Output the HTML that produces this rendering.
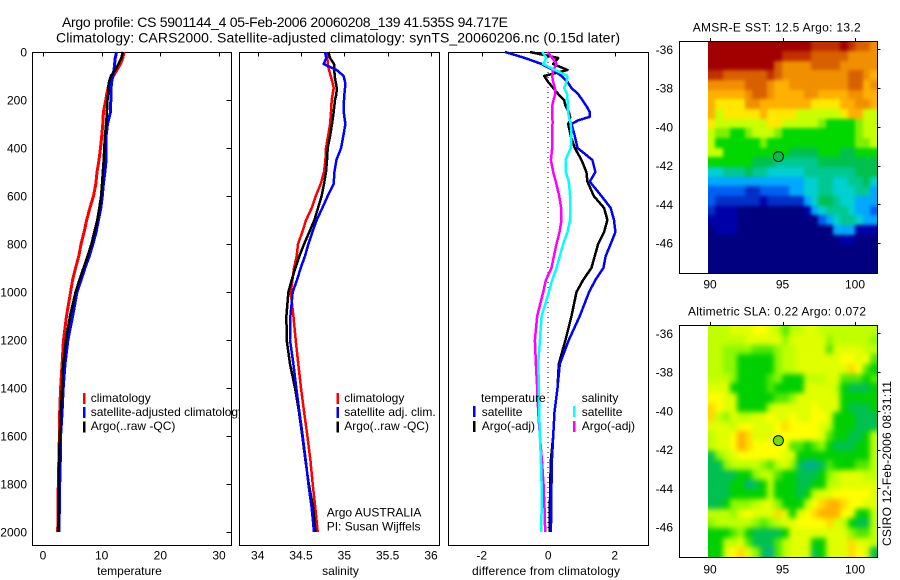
<!DOCTYPE html>
<html>
<head>
<meta charset="utf-8">
<title>Argo profile</title>
<style>
html,body{margin:0;padding:0;background:#fff;}
svg{display:block;}
text{font-family:"Liberation Sans",sans-serif;font-size:12px;fill:#000;}
.title{font-size:14px;}
</style>
</head>
<body>
<svg id="chart" xmlns="http://www.w3.org/2000/svg" width="900" height="580" viewBox="0 0 900 580">
  <defs>
    <filter id="blur-sst" filterUnits="userSpaceOnUse" x="640" y="0" width="260" height="300" color-interpolation-filters="sRGB"><feGaussianBlur stdDeviation="1.8"/></filter>
    <filter id="blur-sla" filterUnits="userSpaceOnUse" x="640" y="290" width="260" height="290" color-interpolation-filters="sRGB"><feGaussianBlur stdDeviation="2.6"/></filter>
    <clipPath id="clip-sst"><rect x="708" y="41" width="170" height="232"/></clipPath>
    <clipPath id="clip-sla"><rect x="708" y="325" width="170" height="232"/></clipPath>
  </defs>
  <rect x="0" y="0" width="900" height="580" fill="#fff"/>
  <text class="title" x="62" y="27" textLength="446">Argo profile: CS 5901144_4 05-Feb-2006 20060208_139 41.535S 94.717E</text>
  <text class="title" x="56" y="42.5" textLength="564">Climatology: CARS2000. Satellite-adjusted climatology: synTS_20060206.nc (0.15d later)</text>

  <g id="panel1"></g>
  <g id="panel2"></g>
  <g id="panel3"></g>
  <g id="map1"></g>
  <g id="map2"></g>

  <text x="129.5" y="575" text-anchor="middle">temperature</text>
  <text x="340.5" y="575" text-anchor="middle">salinity</text>
  <text x="546" y="575" text-anchor="middle" textLength="148">difference from climatology</text>

  <text x="692.7" y="31.5" textLength="168">AMSR-E SST: 12.5 Argo: 13.2</text>
  <text x="688" y="315.5" textLength="178">Altimetric SLA: 0.22 Argo: 0.072</text>
  <text transform="translate(891,546) rotate(-90)" textLength="165">CSIRO 12-Feb-2006 08:31:11</text>
</svg>
<script>
// ---------- profile data ----------
const depthGrid = [0,25,50,75,100,125,150,175,200,250,300,350,400,450,500,550,600,650,700,750,800,850,900,950,1000,1100,1200,1300,1400,1500,1600,1700,1800,1900,2000];
const tempClimatology = [13.8,13.6,13.2,12.6,12.0,11.4,11.1,10.85,10.7,10.3,10.2,10.0,9.8,9.55,9.2,9.0,8.6,8.0,7.45,7.0,6.5,6.1,5.55,5.05,4.7,4.0,3.5,3.25,3.0,2.85,2.8,2.7,2.6,2.55,2.5];
const tempSatellite = [12.55,12.3,12.2,12.1,11.9,11.7,11.6,11.55,11.55,11.5,11.0,10.75,10.7,10.75,10.55,10.3,10.1,9.85,9.45,9.05,8.5,7.9,7.15,6.5,5.8,5.05,4.25,3.75,3.45,3.25,3.0,2.95,2.85,2.8,2.7];
const tempArgo = [13.6,13.35,12.85,12.3,11.55,11.25,11.1,11.1,11.0,10.9,10.75,10.55,10.45,10.35,10.2,10.05,9.9,9.6,9.25,8.75,8.25,7.6,6.9,6.2,5.55,4.6,3.9,3.45,3.25,3.05,2.85,2.75,2.7,2.7,2.6];
const salClimatology = [34.796,34.804,34.808,34.823,34.842,34.862,34.877,34.865,34.854,34.846,34.835,34.812,34.788,34.781,34.765,34.727,34.669,34.623,34.558,34.515,34.465,34.45,34.419,34.4,34.381,34.412,34.438,34.469,34.5,34.535,34.573,34.608,34.635,34.665,34.692];
const salSatellite = [34.777,34.792,34.762,34.912,34.992,35.008,35.008,35.0,34.996,34.992,35.012,34.988,34.962,34.908,34.885,34.877,34.808,34.746,34.681,34.631,34.585,34.546,34.496,34.454,34.404,34.377,34.373,34.412,34.446,34.481,34.519,34.554,34.585,34.623,34.65];
const salArgo = [34.815,34.835,34.881,34.885,34.888,34.9,34.912,34.908,34.892,34.877,34.858,34.835,34.808,34.8,34.788,34.765,34.738,34.696,34.654,34.596,34.535,34.481,34.435,34.392,34.354,34.331,34.335,34.373,34.431,34.477,34.515,34.55,34.59,34.64,34.665];
const diffDepths = [0,25,50,75,100,125,150,175,200,225,250,270,285,300,350,400,450,500,540,600,650,700,750,800,850,900,950,1000,1100,1200,1300,1400,1500,1600,1700,1800,1900,2000];
const diffTempSatellite = [-1.30,-.70,-.20,.15,.40,.58,.70,.90,1.03,1.15,1.25,1.25,.90,.70,.80,.88,1.33,1.42,1.25,1.60,1.88,1.98,2.02,1.88,1.73,1.66,1.42,1.23,.95,.62,.35,.28,.19,.15,.11,.10,.09,.08];
const diffTempArgo = [-.55,.30,.15,.58,-.12,0,.15,.30,.48,.52,.62,.66,.65,.60,.68,.80,1.00,1.15,1.18,1.37,1.68,1.78,1.68,1.50,1.40,1.30,1.05,.85,.70,.52,.32,.28,.19,.15,.08,.06,.05,.05];
const diffSalSatellite = [-.18,-.05,-.15,.2,.58,.55,.48,.57,.58,.58,.6,.62,.65,.68,.7,.68,.52,.53,.62,.66,.67,.66,.58,.45,.35,.25,.12,.02,-.2,-.25,-.3,-.28,-.27,-.25,-.22,-.2,-.2,-.21];
const diffSalArgo = [-.02,.12,.25,.15,.12,.15,.2,.21,.16,.12,.12,.12,.13,.13,.12,.12,.08,.15,.23,.33,.39,.4,.34,.25,.17,.1,-.07,-.15,-.33,-.4,-.37,-.33,-.3,-.25,-.19,-.14,-.11,-.09];
const zeroLineValues = [0,0];
const zeroLineDepths = [0,2000];

// ---------- tick labels ----------
const depthTicks = [0,200,400,600,800,1000,1200,1400,1600,1800,2000];
const tempTicks = [0,10,20,30];
const salTicks = [34,34.5,35,35.5,36];
const diffTicks = [-2,0,2];
const lonTicks = [90,95,100];
const latTicks = [-36,-38,-40,-42,-44,-46];

// ---------- float position ----------
const floatLon = 94.717;
const floatLat = -41.535;

// ---------- map grids: one base-36 colour level per cell ----------
const sstLevels = [
"ggggggggggggggffffgfeed",
"ggggggggggffffeeeeedddd",
"gggggggggeddddeeeeddddd",
"ffeeeeeefedddddddddeedc",
"dddddeeedccddddddddeecd",
"cccccdeedccccddccccddcc",
"cbbbbddcccccccbbbbccddc",
"cabbbbbcbbbbaaaaaabccaa",
"baaaaaaabbaaaaa988889aa",
"a99889aaa988888888889aa",
"a888888988888888888899a",
"aa888888888777788877888",
"88888877766666677777777",
"55666766555556666666777",
"44444444444445566556675",
"33333223333445566555664",
"32222221222224577655444",
"21110000000001456665443",
"11110000000000034566544",
"01110000000000000444111",
"00000000000000000011000",
"00000000000000000000000",
"00000000000000000000000",
"00000000000000000000000"];
const slaLevels = [
"55566677653556655555555",
"55555666664666664555554",
"55444433345566663666655",
"55442222245566666677673",
"55442222245566666668732",
"55542222342225556633323",
"66622222322226666521112",
"77662222233466666622222",
"87662222566666766621112",
"85465566766766776222111",
"66657766678777765222111",
"56679866677777763221125",
"56679877777332342111225",
"14567777776622222222225",
"11455554356410013222335",
"11112245532211124566655",
"11122012522211225566666",
"11122222522212566777776",
"11244456642225789987766",
"55546766686267899977225",
"45555543456677778652115",
"22234211112666666664335",
"22556311135666226668665",
"22678641035666126668761"];
const sstPalette = ["#000080","#0000a8","#0030c8","#0060f0","#00a8ff","#00d0d0","#00c890","#00c050","#00d800","#80f000","#c8ff00","#ffe800","#ffb000","#f09000","#d86000","#c03000","#a00000"];
const slaPalette = ["#00b090","#00c050","#00d000","#50e800","#90f800","#c0ff00","#e0ff00","#ffff00","#ffd800","#ffb000"];

// ---------- helpers ----------
const NS = "http://www.w3.org/2000/svg";
function scale(d0, r0, d1, r1) { return v => r0 + (v - d0) * (r1 - r0) / (d1 - d0); }
function make(tag, parent, attrs) {
  const e = document.createElementNS(NS, tag);
  for (const k in attrs) e.setAttribute(k, attrs[k]);
  parent.appendChild(e);
  return e;
}
function seg(parent, x1, y1, x2, y2) {
  return make("line", parent, {x1: x1, y1: y1, x2: x2, y2: y2, stroke: "#000", "stroke-width": 1, "shape-rendering": "crispEdges"});
}
function label(parent, x, y, s, anchor) {
  const t = make("text", parent, {x: x, y: y, "text-anchor": anchor || "start"});
  t.textContent = s;
  return t;
}
function frame(parent, l, t, r, b) {
  return make("rect", parent, {x: l, y: t, width: r - l, height: b - t, fill: "#fff", stroke: "#000", "stroke-width": 1, "shape-rendering": "crispEdges"});
}
function profile(parent, xs, ys, sx, sy, color, width) {
  const pts = xs.map((v, i) => sx(v).toFixed(1) + "," + sy(ys[i]).toFixed(1)).join(" ");
  return make("polyline", parent, {points: pts, fill: "none", stroke: color, "stroke-width": width, "stroke-linejoin": "round", "shape-rendering": "crispEdges"});
}
function swatch(parent, x, y, color) {
  return make("rect", parent, {x: x, y: y, width: 2.5, height: 11, fill: color, "shape-rendering": "crispEdges"});
}

const P_TOP = 52.5, P_BOT = 545.5;
const depthY = scale(0, 52, 2000, 532);
let el;

// ---------- temperature panel ----------
const g1 = document.getElementById("panel1");
const tempX = scale(0, 43, 30, 219);
el = frame(g1, 32.5, P_TOP, 231.5, P_BOT);


tempTicks.forEach(v => {
  el = seg(g1, Math.round(tempX(v)) + .5, P_TOP, Math.round(tempX(v)) + .5, P_TOP + 4);
  
  
  el = label(g1, tempX(v), 559.5, String(v), "middle");
  
  
});
depthTicks.forEach(d => {
  el = seg(g1, 226.5, Math.round(depthY(d)) + .5, 231.5, Math.round(depthY(d)) + .5);
  
  
  el = label(g1, 27, depthY(d) + 4.5, String(d), "end");
  
  
});
el = profile(g1, tempClimatology, depthGrid, tempX, depthY, "#f00", 3);


el = profile(g1, tempSatellite, depthGrid, tempX, depthY, "#00f", 3);


el = profile(g1, tempArgo, depthGrid, tempX, depthY, "#000", 2.5);


el = swatch(g1, 83, 393, "#f00");


el = swatch(g1, 83, 407, "#00f");


el = swatch(g1, 83, 421.5, "#000");


el = label(g1, 90.7, 402, "climatology");


el = label(g1, 90.7, 416, "satellite-adjusted climatology");


el = label(g1, 90.7, 430, "Argo(..raw -QC)");



// ---------- salinity panel ----------
const g2 = document.getElementById("panel2");
const salX = scale(34, 257.7, 36, 431);
el = frame(g2, 239.5, P_TOP, 439.5, P_BOT);


salTicks.forEach(v => {
  el = seg(g2, Math.round(salX(v)) + .5, P_TOP, Math.round(salX(v)) + .5, P_TOP + 4);
  
  
  el = label(g2, salX(v), 559.5, String(v), "middle");
  
  
});
el = profile(g2, salClimatology, depthGrid, salX, depthY, "#f00", 2.5);


el = profile(g2, salArgo, depthGrid, salX, depthY, "#000", 2.5);


el = profile(g2, salSatellite, depthGrid, salX, depthY, "#00f", 2.5);


el = swatch(g2, 336.7, 393, "#f00");


el = swatch(g2, 336.7, 407, "#00f");


el = swatch(g2, 336.7, 421.5, "#000");


el = label(g2, 344.3, 402, "climatology");


el = label(g2, 344.3, 416, "satellite adj. clim.");


el = label(g2, 344.3, 430, "Argo(..raw -QC)");


el = label(g2, 326.7, 516.5, "Argo AUSTRALIA");


el = label(g2, 326.7, 530.5, "PI: Susan Wijffels");



// ---------- difference panel ----------
const g3 = document.getElementById("panel3");
const diffX = scale(-2, 481.7, 2, 614.7);
el = frame(g3, 448.5, P_TOP, 648.5, P_BOT);


diffTicks.forEach(v => {
  el = seg(g3, Math.round(diffX(v)) + .5, P_TOP, Math.round(diffX(v)) + .5, P_TOP + 4);
  
  
  el = label(g3, diffX(v), 559.5, String(v), "middle");
  
  
});
el = profile(g3, zeroLineValues, zeroLineDepths, diffX, depthY, "#000", 1);
el.setAttribute('stroke-dasharray', '1 4');


el = profile(g3, diffTempArgo, diffDepths, diffX, depthY, "#000", 2.5);


el = profile(g3, diffTempSatellite, diffDepths, diffX, depthY, "#00f", 2.5);


el = profile(g3, diffSalArgo, diffDepths, diffX, depthY, "#f0f", 2.5);


el = profile(g3, diffSalSatellite, diffDepths, diffX, depthY, "#0ff", 2.5);


el = label(g3, 481, 402, "temperature");


el = label(g3, 581.7, 402, "salinity");


el = swatch(g3, 473, 406, "#00f");


el = swatch(g3, 473, 421, "#000");


el = swatch(g3, 573, 406, "#0ff");


el = swatch(g3, 573, 421, "#f0f");


el = label(g3, 481.7, 416, "satellite");


el = label(g3, 481.7, 430, "Argo(-adj)");


el = label(g3, 581.7, 416, "satellite");


el = label(g3, 581.7, 430, "Argo(-adj)");



// ---------- maps ----------
function drawMap(g, levels, palette, top, bottom, lat0Y, dotColor, xLabelY, prefix) {
  const lonX = scale(90, 710, 100, 855);
  const latY = scale(-36, lat0Y, -46, lat0Y + 193.8);
  const left = 708, right = 877.3;
  const nRows = levels.length, nCols = levels[0].length;
  const w = (right - left) / nCols, h = (bottom - top) / nRows;
  const clip = make("g", g, {"clip-path": "url(#clip-" + prefix + ")"});
  
  
  const cells = make("g", clip, {filter: "url(#blur-" + prefix + ")"});
  levels.forEach((row, r) => {
    for (let c = 0; c < nCols; c++) {
      // border cells run past the clip so the smoothing does not fade at the edge
      const x0 = c === 0 ? left - 12 : Math.round(left + c * w);
      const x1 = c === nCols - 1 ? right + 12 : Math.round(left + (c + 1) * w);
      const y0 = r === 0 ? top - 12 : Math.round(top + r * h);
      const y1 = r === nRows - 1 ? bottom + 12 : Math.round(top + (r + 1) * h);
      const cell = make("rect", cells, {x: x0, y: y0, width: x1 - x0, height: y1 - y0, fill: palette[parseInt(row[c], 36)], "shape-rendering": "crispEdges"});
      
      
    }
  });
  const box = make("rect", g, {x: 679.5, y: Math.round(top) + .5, width: 198, height: Math.round(bottom) - Math.round(top), fill: "none", stroke: "#000", "stroke-width": 1, "shape-rendering": "crispEdges"});
  
  
  lonTicks.forEach(v => {
    const x = Math.round(lonX(v)) + .5;
    const t = seg(g, x, Math.round(top) - 3, x, Math.round(top));
    
    
    const l = label(g, lonX(v), xLabelY, String(v), "middle");
    
    
  });
  latTicks.forEach(v => {
    const y = Math.round(latY(v)) + .5;
    const t = seg(g, 877.5, y, 880.5, y);
    
    
    const l = label(g, 673, latY(v) + 4.5, String(v), "end");
    
    
  });
  const dot = make("circle", g, {cx: lonX(floatLon), cy: latY(floatLat), r: 5, fill: dotColor, stroke: "#000", "stroke-width": 1});
  
  
}
drawMap(document.getElementById("map1"), sstLevels, sstPalette, 41.3, 273.3, 49.3, "#00c050", 288.3, "sst");
drawMap(document.getElementById("map2"), slaLevels, slaPalette, 325.3, 557, 333.3, "#70e000", 573.3, "sla");
</script>
</body>
</html>
